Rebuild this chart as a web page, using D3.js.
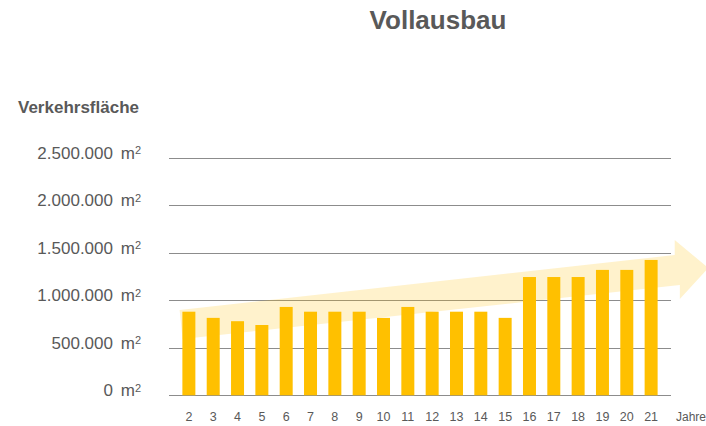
<!DOCTYPE html>
<html>
<head>
<meta charset="utf-8">
<script src="https://cdn.jsdelivr.net/npm/d3@7"></script>
<style>
  body { margin: 0; background: #fff; }
  text { font-family: "Liberation Sans", Arial, sans-serif; fill: #595959; }
</style>
</head>
<body>
<script>
// data
var years = ["2","3","4","5","6","7","8","9","10","11","12","13","14","15","16","17","18","19","20","21"];
var flaeche = [880000, 815000, 780000, 740000, 930000, 880000, 880000, 880000, 815000, 930000,
               880000, 880000, 880000, 815000, 1245000, 1245000, 1245000, 1320000, 1320000, 1425000];
var yTicks = [0, 500000, 1000000, 1500000, 2000000, 2500000];
// trend arrow outline: [position in years (index), value]
var arrowIdx = [-0.38, 19.97, 19.97, 21.35, 20.18, 20.18, -0.26];
var arrowVal = [898000, 1477000, 1635000, 1340000, 1014000, 1160000, 593000];

var width = 706, height = 426;
var plot = {left: 169, right: 671, top: 157.8, bottom: 395.3};

var svg = d3.select("body").append("svg").attr("width", width).attr("height", height);

var x = d3.scaleBand().domain(years).range([plot.left, plot.right]).paddingInner(0.466).paddingOuter(0.55);
var y = d3.scaleLinear().domain([0, 2500000]).range([plot.bottom, plot.top]);
// index scale for the arrow, aligned on band centers
var xi = d3.scaleLinear().domain([0, years.length - 1])
           .range([x(years[0]) + x.bandwidth() / 2, x(years[years.length - 1]) + x.bandwidth() / 2]);

var fmt = d3.formatLocale({decimal: ",", thousands: ".", grouping: [3], currency: ["", "€"]}).format(",d");

// gridlines
svg.append("g").selectAll("line")
   .data(yTicks)
   .enter().append("line")
     .attr("x1", plot.left).attr("x2", plot.right)
     .attr("y1", function(d){ return Math.round(y(d)) + 0.5; })
     .attr("y2", function(d){ return Math.round(y(d)) + 0.5; })
     .attr("stroke", "#8c8c8c").attr("stroke-width", 1);

// y labels
var yl = svg.append("g").selectAll("text")
   .data(yTicks)
   .enter().append("text")
     .attr("x", 141)
     .attr("y", function(d){ return y(d) - 5; })
     .attr("dy", "0.35em")
     .attr("text-anchor", "end")
     .style("font-size", "17px");
yl.append("tspan").text(function(d){ return fmt(d); });
yl.append("tspan").attr("dx", 3).text(" m");
yl.append("tspan").attr("dy", "-0.4em").style("font-size", "11px").text("2");

// trend arrow
svg.append("path")
   .datum(d3.range(arrowIdx.length))
   .attr("d", d3.line().x(function(i){ return xi(arrowIdx[i]); }).y(function(i){ return y(arrowVal[i]); }).curve(d3.curveLinearClosed))
   .attr("fill", "#FFC000").attr("fill-opacity", 0.2);

// bars
svg.append("g").selectAll("rect")
   .data(flaeche)
   .enter().append("rect")
     .attr("x", function(d, i){ return x(years[i]); })
     .attr("y", function(d){ return y(d); })
     .attr("width", x.bandwidth())
     .attr("height", function(d){ return plot.bottom - y(d); })
     .attr("fill", "#FFC000");

// x labels
svg.append("g").selectAll("text")
   .data(years)
   .enter().append("text")
     .attr("x", function(d){ return x(d) + x.bandwidth() / 2; })
     .attr("y", 417)
     .attr("dy", "0.35em")
     .attr("text-anchor", "middle")
     .style("font-size", "12.5px")
     .text(function(d){ return d; });

svg.append("text").attr("x", 676).attr("y", 417).attr("dy", "0.35em")
   .style("font-size", "12px").text("Jahre");

svg.append("text").attr("x", 18).attr("y", 113)
   .style("font-size", "17px").style("font-weight", "bold").text("Verkehrsfläche");

svg.append("text").attr("x", 438).attr("y", 29).attr("text-anchor", "middle")
   .style("font-size", "26px").style("font-weight", "bold").text("Vollausbau");
</script>
</body>
</html>
